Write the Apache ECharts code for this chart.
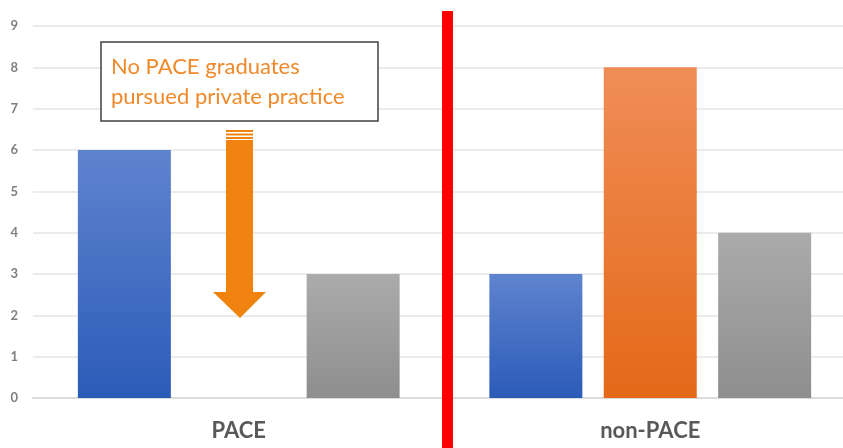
<!DOCTYPE html>
<html>
<head>
<meta charset="utf-8">
<script src="https://cdn.jsdelivr.net/npm/echarts@6/dist/echarts.min.js"></script>
<style>
  html, body { margin: 0; padding: 0; background: #fff; }
  #chart { width: 843px; height: 448px; }
</style>
</head>
<body>
<div id="chart"></div>
<script>
var categories = ['PACE', 'non-PACE'];
var series1 = [6, 3];
var series2 = [0, 8];
var series3 = [3, 4];
var yTicks = [0, 1, 2, 3, 4, 5, 6, 7, 8, 9];

function grad(top, bottom) {
    return new echarts.graphic.LinearGradient(0, 0, 0, 1, [
        { offset: 0, color: top },
        { offset: 1, color: bottom }
    ]);
}

var chart = echarts.init(document.getElementById('chart'));

var option = {
    animation: false,
    grid: {
        left: 33,
        top: 26,
        right: -13,
        bottom: 50,
        outerBoundsMode: 'none'
    },
    xAxis: {
        type: 'category',
        data: categories,
        axisTick: { show: false },
        axisLine: { lineStyle: { color: '#dcdcdc', width: 2 } },
        axisLabel: {
            margin: 22,
            color: '#595959',
            fontFamily: 'Lato',
            fontWeight: 'bold',
            fontSize: 22
        }
    },
    yAxis: {
        type: 'value',
        min: yTicks[0],
        max: yTicks[yTicks.length - 1],
        interval: 1,
        axisLine: { show: false },
        axisTick: { show: false },
        splitLine: { lineStyle: { color: '#ebebeb', width: 2 } },
        axisLabel: {
            margin: 15,
            color: '#808080',
            fontFamily: 'Lato',
            fontWeight: 'bold',
            fontSize: 13
        }
    },
    series: [{
        name: 'Series 1',
        type: 'bar',
        data: series1,
        barWidth: 93,
        barGap: '23%',
        itemStyle: { color: grad('#5f84cf', '#2b5bb8') }
    }, {
        name: 'Series 2',
        type: 'bar',
        data: series2,
        barWidth: 93,
        barGap: '23%',
        itemStyle: { color: grad('#f08d57', '#e46918') }
    }, {
        name: 'Series 3',
        type: 'bar',
        data: series3,
        barWidth: 93,
        barGap: '23%',
        itemStyle: { color: grad('#ababab', '#8e8e8e') }
    }],
    graphic: [{
        type: 'rect',
        shape: { x: 442, y: 11, width: 11, height: 437 },
        style: { fill: '#ff0000' },
        z: 100
    }, {
        type: 'rect',
        shape: { x: 101, y: 42, width: 277, height: 79 },
        style: { fill: '#ffffff', stroke: '#404040', lineWidth: 1.5 },
        z: 100
    }, {
        type: 'text',
        left: 111,
        top: 52,
        style: {
            text: 'No PACE graduates\npursued private practice',
            fill: '#f0892a',
            font: '22px Lato',
            lineHeight: 30
        },
        z: 101
    }, {
        type: 'polygon',
        shape: {
            points: [[226, 140], [253, 140], [253, 292], [266, 292], [240, 318], [213, 292], [226, 292]]
        },
        style: { fill: '#f0830f' },
        z: 100
    }, {
        type: 'rect',
        shape: { x: 226, y: 130, width: 27, height: 2 },
        style: { fill: '#f0830f' },
        z: 100
    }, {
        type: 'rect',
        shape: { x: 226, y: 133.5, width: 27, height: 2 },
        style: { fill: '#f0830f' },
        z: 100
    }, {
        type: 'rect',
        shape: { x: 226, y: 137, width: 27, height: 2 },
        style: { fill: '#f0830f' },
        z: 100
    }]
};

chart.setOption(option);
</script>
</body>
</html>
